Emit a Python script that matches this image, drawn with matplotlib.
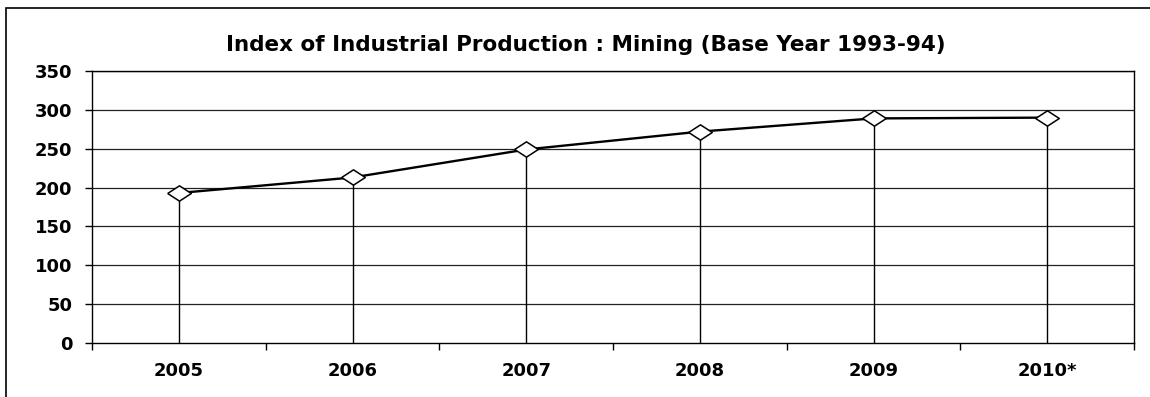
import numpy as np
import matplotlib.pyplot as plt
from matplotlib.patches import Rectangle

plt.rcParams['font.family'] = ['DejaVu Sans']

# Dados do gráfico
anos = ['2005', '2006', '2007', '2008', '2009', '2010*']
indice = [193, 213, 249, 272, 289, 290]
yticks = [0, 50, 100, 150, 200, 250, 300, 350]

W, H = 1150, 397
fig = plt.figure(figsize=(W / 100, H / 100), dpi=100)
# eixo em pixels: esquerda 92, direita 1134, topo 71, base 343
ax = fig.add_axes([92 / W, 1 - 343 / H, (1134 - 92) / W, (343 - 71) / H])

# moldura da figura (só aparecem topo e esquerda)
fig.patches.append(Rectangle((6 / W, -0.1), 1.2, 1 - 8 / H + 0.1, transform=fig.transFigure,
                             fill=False, edgecolor='black', linewidth=1.2))

x = np.arange(len(anos)) + 0.5

# grade horizontal
for v in yticks[1:]:
    ax.axhline(v, color='#222222', linewidth=0.9, zorder=1)

# linhas verticais até o eixo
ax.vlines(x, 0, indice, color='black', linewidth=1.0, zorder=2)

losango = [(-1, 0), (0, 0.65), (1, 0), (0, -0.65), (-1, 0)]
ax.plot(x, indice, color='black', linewidth=1.7, marker=losango, markersize=17,
        markerfacecolor='white', markeredgecolor='black', markeredgewidth=1.1, zorder=3)

ax.set_xlim(0, len(anos))
ax.set_ylim(0, 350)
ax.set_yticks(yticks)
ax.set_yticklabels([str(v) for v in yticks], fontsize=13, fontweight='bold')
ax.set_xticks(np.arange(len(anos) + 1))
ax.set_xticklabels([])
ax.set_xticks(x, minor=True)
ax.set_xticklabels(anos, minor=True, fontsize=13, fontweight='bold')
ax.tick_params(axis='x', which='minor', length=0, pad=14)
ax.tick_params(axis='x', which='major', length=5, width=1, direction='out')
ax.tick_params(axis='y', length=5, width=1, direction='out', pad=9)

for s in ax.spines.values():
    s.set_linewidth(1.0)
    s.set_color('black')

fig.text(586 / W, 1 - 45 / H, 'Index of Industrial Production : Mining (Base Year 1993-94)',
         ha='center', va='center', fontsize=15.5, fontweight='bold')

fig.savefig('out.png', dpi=100)
